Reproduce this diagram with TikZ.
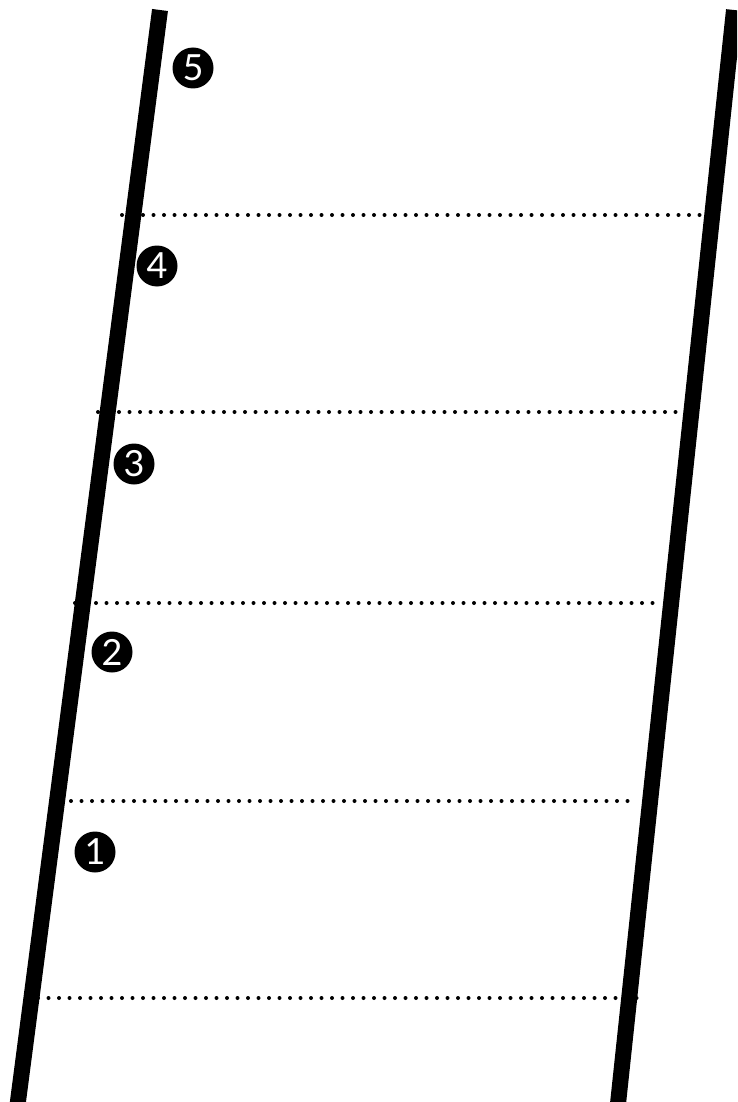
\documentclass[tikz,border=0pt]{standalone}
\usepackage{fontspec}
\newfontfamily\numfont{Lato}
\begin{document}
\begin{tikzpicture}[x=1pt,y=-1pt,
  rail/.style={line width=16pt,line cap=butt},
  rung/.style={line width=4pt,line cap=round,dash pattern=on 0pt off 10.5pt},
  badge/.style={circle,fill=black,text=white,minimum size=41pt,inner sep=0pt,font=\numfont\fontsize{36}{36}\selectfont}]
\useasboundingbox (0,0) rectangle (737,1102);
\clip (0,0) rectangle (737,1102);
% rungs
\coordinate (r1a) at (122,215); \coordinate (r1b) at (708,215);
\coordinate (r2a) at (98,412);  \coordinate (r2b) at (688,412);
\coordinate (r3a) at (75,603);  \coordinate (r3b) at (655,603);
\coordinate (r4a) at (71,801);  \coordinate (r4b) at (632,801);
\coordinate (r5a) at (38,998);  \coordinate (r5b) at (638,998);
\draw[rung] (r1a) -- (r1b);
\draw[rung] (r2a) -- (r2b);
\draw[rung] (r3a) -- (r3b);
\draw[rung] (r4a) -- (r4b);
\draw[rung] (r5a) -- (r5b);
% rails
\coordinate (lt) at (160,10); \coordinate (lb) at (14,1132);
\coordinate (rt) at (734,10); \coordinate (rb) at (615,1132);
\draw[rail] (lt) -- (lb);
\draw[rail] (rt) -- (rb);
% badges
\node[badge] (n5) at (193,68) {5};
\node[badge] (n4) at (157,266) {4};
\node[badge] (n3) at (134,464) {3};
\node[badge] (n2) at (112,652) {2};
\node[badge] (n1) at (95,852) {1};
\end{tikzpicture}
\end{document}
